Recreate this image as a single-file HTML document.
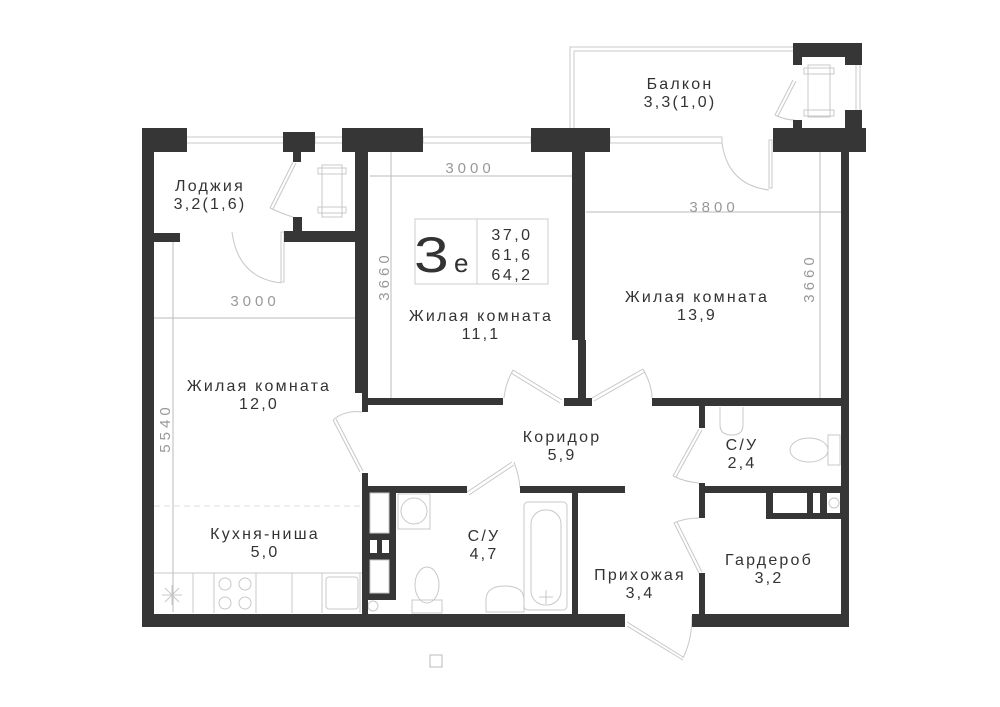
<!DOCTYPE html>
<html><head><meta charset="utf-8"><style>
html,body{margin:0;padding:0;background:#fff;}
svg{display:block;}
text{font-family:"Liberation Sans","DejaVu Sans",sans-serif;}
.l{font-size:16px;fill:#333;text-anchor:middle;letter-spacing:2.2px;}
.d{font-size:15px;fill:#999;text-anchor:middle;letter-spacing:4px;}
</style></head><body>
<svg width="1000" height="707" viewBox="0 0 1000 707" xmlns="http://www.w3.org/2000/svg">
<g fill="none" stroke="#c8c8c8" stroke-width="1">
 <rect x="186" y="137" width="98" height="6"/><rect x="315" y="137" width="28" height="6"/>
 <rect x="423" y="137" width="108" height="6"/><rect x="610" y="137" width="112" height="6"/>
 <path d="M570 128 V47 H793 M574 128 V51 H793"/>
 <path d="M856 65 V110 M860 65 V110"/>
 <rect x="322" y="165" width="20" height="52"/><rect x="318" y="168" width="28" height="6"/><rect x="318" y="207" width="28" height="6"/>
 <rect x="808" y="65" width="22" height="52"/><rect x="804" y="68" width="30" height="6"/><rect x="804" y="110" width="30" height="6"/>
 <path d="M293 162 L270 208 M296 163 L273 209"/><path d="M270 208 Q283 214 293 217"/>
 <rect x="281" y="232" width="3" height="50"/><path d="M232 232 Q238 278 281 283"/>
 <path d="M793 80 L775 115 M796 81 L778 116"/><path d="M775 115 Q785 120 795 120"/>
 <rect x="769" y="140" width="3" height="48"/><path d="M722 143 Q728 185 769 190"/>
 <path d="M513 370 L562 400 M511 373 L560 403"/><path d="M513 370 Q505 385 504 398"/>
 <path d="M592 398 L643 369 M594 401 L645 372"/><path d="M643 369 Q652 385 652 398"/>
 <path d="M333 420 L360 472 M336 419 L363 471"/><path d="M333 420 Q345 410 362 412"/>
 <path d="M467 492 L512 462 M469 495 L514 465"/><path d="M514 462 Q519 475 520 488"/>
 <path d="M699 429 L673 476 M702 430 L676 477"/><path d="M673 476 Q685 482 699 483"/>
 <path d="M699 573 L674 523 M702 572 L677 522"/><path d="M674 523 Q685 518 699 518"/>
 <path d="M627 622 L683 657 M627 626 L683 660"/><path d="M683 658 Q692 640 692 616"/>
 <path d="M154 573 H362 M193 573 V613 M214 573 V613 M256 573 V613 M292 573 V613 M322 573 V613 M360 573 V613"/>
 <circle cx="225" cy="584" r="6"/><circle cx="245" cy="584" r="6"/><circle cx="225" cy="603" r="6"/><circle cx="245" cy="603" r="6"/>
 <rect x="326" y="577" width="32" height="32" rx="3"/>
 <path d="M172 585 V605 M162 595 H182 M165 588 L179 602 M179 588 L165 602"/>
 <rect x="398" y="494" width="32" height="35"/><circle cx="414" cy="511" r="13"/>
 <ellipse cx="427" cy="585" rx="12" ry="18"/><rect x="412" y="600" width="30" height="13"/>
 <path d="M486 612 V600 Q486 586 505 586 Q524 586 524 600 V612 Z"/>
 <rect x="524" y="502" width="43" height="108" rx="4"/><rect x="531" y="510" width="30" height="95" rx="14"/>
 <path d="M546 590 V604 M539 597 H553"/>
 <path d="M720 407 V425 Q720 435 732 435 Q743 435 743 425 V407"/>
 <ellipse cx="809" cy="450" rx="19" ry="12"/><rect x="828" y="435" width="12" height="30"/>
 <circle cx="373" cy="606" r="5"/>
</g>
<path d="M154 506 H362" stroke="#ddd" stroke-dasharray="6 4"/>
<g stroke="#bbb" stroke-width="1" fill="none">
 <path d="M370 176 H572"/><path d="M391 152 V398"/>
 <path d="M154 318 H355"/><path d="M173 242 V612"/>
 <path d="M586 212 H841"/><path d="M820 152 V398"/>
</g>
<text class="d" x="470" y="173">3000</text>
<text class="d" x="255" y="306">3000</text>
<text class="d" x="714" y="212">3800</text>
<text class="d" transform="translate(389,276) rotate(-90)">3660</text>
<text class="d" transform="translate(814,278) rotate(-90)">3660</text>
<text class="d" transform="translate(170,428) rotate(-90)">5540</text>
<g fill="#363636">
 <rect x="142" y="128" width="12" height="499"/>
 <rect x="142" y="128" width="45" height="24"/>
 <rect x="283" y="132" width="32" height="20"/><rect x="293" y="152" width="8" height="10"/>
 <rect x="293" y="217" width="9" height="14"/>
 <rect x="284" y="231" width="84" height="11"/><rect x="154" y="233" width="26" height="9"/>
 <rect x="342" y="128" width="81" height="24"/>
 <rect x="355" y="152" width="13" height="241"/><rect x="362" y="393" width="6" height="19"/>
 <rect x="362" y="398" width="141" height="7"/>
 <rect x="531" y="128" width="79" height="24"/>
 <rect x="572" y="152" width="13" height="188"/><rect x="578" y="340" width="8" height="60"/>
 <rect x="564" y="398" width="28" height="8"/>
 <rect x="652" y="398" width="197" height="8"/>
 <rect x="773" y="128" width="93" height="24"/>
 <rect x="841" y="152" width="8" height="475"/>
 <rect x="793" y="43" width="69" height="14"/><rect x="793" y="57" width="9" height="8"/><rect x="845" y="57" width="17" height="8"/>
 <rect x="845" y="110" width="17" height="18"/><rect x="793" y="120" width="9" height="8"/>
 <rect x="362" y="473" width="6" height="141"/>
 <rect x="362" y="486" width="105" height="7"/><rect x="520" y="486" width="105" height="7"/>
 <rect x="572" y="493" width="6" height="121"/>
 <rect x="363" y="490" width="33" height="110"/>
 <rect x="699" y="405" width="6" height="23"/><rect x="699" y="483" width="6" height="35"/><rect x="699" y="573" width="6" height="41"/>
 <rect x="699" y="486" width="142" height="7"/>
 <rect x="766" y="493" width="75" height="26"/>
 <rect x="142" y="614" width="483" height="13"/><rect x="692" y="614" width="157" height="13"/>
</g>
<g fill="#fff">
 <rect x="370" y="493" width="19" height="40"/><rect x="370" y="560" width="19" height="33"/>
 <rect x="370" y="540" width="7" height="13"/><rect x="382" y="540" width="7" height="13"/>
 <rect x="773" y="493" width="34" height="20"/><rect x="813" y="493" width="7" height="20"/><rect x="827" y="493" width="13" height="20"/>
</g>
<g fill="none" stroke="#c8c8c8"><rect x="370" y="493" width="19" height="40"/><rect x="370" y="560" width="19" height="33"/><circle cx="834" cy="503" r="5"/></g>
<g stroke="#ccc" fill="none"><rect x="415" y="219" width="133" height="65"/><path d="M477 219 V284"/></g>
<text transform="translate(414,272) scale(1.25,1)" style="font-size:50px;fill:#333;">3</text>
<text x="454" y="272" style="font-size:26px;fill:#333;">e</text>
<text x="512" y="240" style="font-size:16px;fill:#333;text-anchor:middle;letter-spacing:2.5px;">37,0</text>
<text x="512" y="260" style="font-size:16px;fill:#333;text-anchor:middle;letter-spacing:2.5px;">61,6</text>
<text x="512" y="280" style="font-size:16px;fill:#333;text-anchor:middle;letter-spacing:2.5px;">64,2</text>
<text class="l" x="210" y="191">Лоджия</text><text class="l" x="210" y="209">3,2(1,6)</text>
<text class="l" x="680" y="89">Балкон</text><text class="l" x="680" y="107">3,3(1,0)</text>
<text class="l" x="481" y="321">Жилая комната</text><text class="l" x="481" y="339">11,1</text>
<text class="l" x="697" y="302">Жилая комната</text><text class="l" x="697" y="320">13,9</text>
<text class="l" x="259" y="391">Жилая комната</text><text class="l" x="259" y="409">12,0</text>
<text class="l" x="562" y="442">Коридор</text><text class="l" x="562" y="460">5,9</text>
<text class="l" x="742" y="450">С/У</text><text class="l" x="742" y="468">2,4</text>
<text class="l" x="265" y="539">Кухня-ниша</text><text class="l" x="265" y="557">5,0</text>
<text class="l" x="484" y="541">С/У</text><text class="l" x="484" y="559">4,7</text>
<text class="l" x="640" y="580">Прихожая</text><text class="l" x="640" y="598">3,4</text>
<text class="l" x="769" y="565">Гардероб</text><text class="l" x="769" y="583">3,2</text>
<rect x="430" y="655" width="12" height="12" fill="none" stroke="#bbb"/>
</svg>
</body></html>
